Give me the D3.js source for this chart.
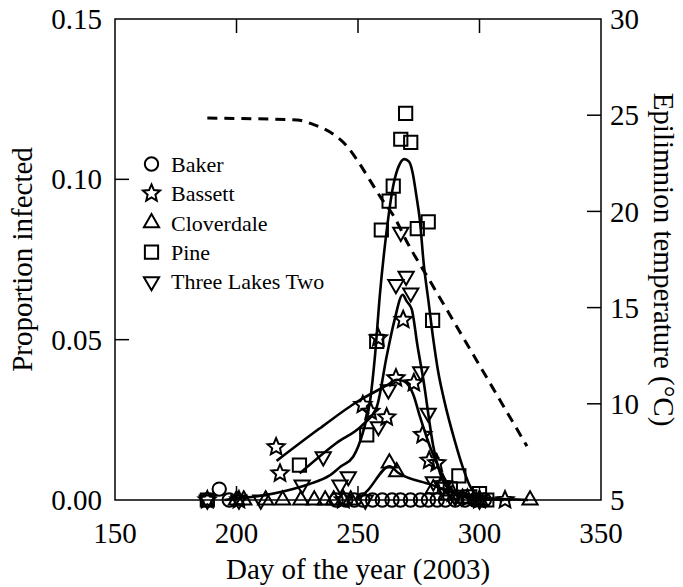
<!DOCTYPE html>
<html><head><meta charset="utf-8">
<script src="https://cdn.jsdelivr.net/npm/d3@7"></script>
<style>body{margin:0;background:#fff}svg{display:block}</style>
</head><body>
<svg id="c" width="683" height="587"></svg>
<script>
// Observations [day, proportion infected]
const bakerPts = [[188,0],[192.9,0.0034],[197,0],[241,0],[245,0],[248.5,0],[252,0],[256,0],[260,0],[264,0],[267.5,0],[271.6,0],[275.7,0],[279,0],[282.6,0],[286,0],[290,0],[294,0],[298,0],[302,0]];
const bassettPts = [[188,0],[201,0],[216.3,0.0165],[217.9,0.0083],[244,0],[252,0.0297],[255.2,0.0276],[258.4,0.0505],[261.8,0.0258],[265.6,0.038],[268.6,0.0562],[273,0.0365],[276.6,0.0203],[279.3,0.0123],[282.4,0.0115],[285,0.005],[289,0.002],[295,0.0005],[300,0],[310.5,0]];
const cloverdalePts = [[200,0],[203,0],[212,0],[219,0],[226.5,0],[232,0],[236.5,0],[240,0],[244,0],[247,0],[262.9,0.0115],[265.9,0.0088],[281,0.0035],[287,0.0015],[293,0.0005],[300,0],[320.8,0]];
const pinePts = [[188,0],[225.9,0.0109],[253.6,0.0203],[257.7,0.0495],[259.6,0.0842],[262.8,0.0932],[264.5,0.0979],[267.6,0.1125],[269.6,0.1206],[271.7,0.1115],[274.4,0.0846],[278.9,0.0867],[280.7,0.056],[288,0.0035],[291.5,0.0075],[296,0.001],[300,0.002],[303,0]];
const threeLakesPts = [[188,0],[201,0],[210,0],[227,0.0047],[235.7,0.0135],[242.6,0.0047],[246,0.0073],[253,0],[258.4,0.0229],[262.5,0.0344],[265.6,0.0672],[267.6,0.0835],[269.8,0.0698],[271.7,0.0646],[275.8,0.040],[278.9,0.0271],[281,0.0057],[285,0.004],[290,0.001],[300,0]];

// Fitted curves
const bassettFit = [[216.5,0.0122],[234,0.0222],[250,0.0308],[262,0.0358],[266,0.0375],[269,0.037],[272.7,0.033],[275.5,0.026],[279.6,0.0167],[283.7,0.0094],[289,0.003],[295,0.0008],[310,0]];
const cloverdaleFit = [[250,0],[254,0.003],[263,0.0105],[266.5,0.0085],[280,0.0048],[290,0.0022],[300,0.0008],[320,0]];
const pineFit = [[195,0],[200,0.0005],[210,0.0013],[220,0.0028],[230,0.005],[238,0.0075],[243,0.0105],[248,0.0135],[252,0.021],[255,0.031],[257,0.045],[259,0.064],[261.8,0.084],[264.5,0.098],[267,0.1045],[269,0.1063],[271,0.1055],[272.5,0.102],[274,0.095],[275.5,0.087],[277,0.074],[279,0.062],[281,0.05],[283,0.04],[285.5,0.031],[290,0.018],[293,0.0105],[296,0.0045],[300,0.001],[305,0]];
const threeLakesFit = [[226,0.0083],[241,0.0177],[252,0.0235],[257.7,0.029],[261.8,0.0448],[265,0.056],[268.4,0.064],[270,0.062],[272.1,0.0595],[274.5,0.048],[276.9,0.0375],[281,0.0167],[285,0.006],[290,0.002],[300,0]];

// Epilimnion temperature [day, degC]
const tempPts = [[188,24.85],[225,24.75],[232,24.5],[240,24.0],[245,23.45],[250,22.6],[255,21.6],[260,20.6],[265,19.7],[270,18.45],[280,16.3],[290,14.15],[300,12.0],[310,9.85],[319.5,7.8]];

const xTicks = [150,200,250,300,350];
const yTicks = [0,0.05,0.10,0.15];
const tTicks = [5,10,15,20,25,30];
const legendNames = ["Baker","Bassett","Cloverdale","Pine","Three Lakes Two"];

const FONT = "'Liberation Serif', 'DejaVu Serif', 'Times New Roman', serif";
const svg = d3.select("#c").attr("font-family", FONT);
const L=115,R=601,T=19,B=500;
const x = d3.scaleLinear().domain([150,350]).range([L,R]);
const y = d3.scaleLinear().domain([0,0.15]).range([B,T]);
const yT = d3.scaleLinear().domain([5,30]).range([B,T]);

// fatter five-point star (size = outer radius squared)
const fatStar = {draw(ctx,size){
  const ro=Math.sqrt(size), ri=ro*0.46;
  for(let k=0;k<10;k++){
    const r=k%2?ri:ro, a=-Math.PI/2+k*Math.PI/5;
    const px=r*Math.cos(a), py=r*Math.sin(a);
    k?ctx.lineTo(px,py):ctx.moveTo(px,py);
  }
  ctx.closePath();
}};

const symDefs = [
  {type:d3.symbolCircle,size:140,rot:0},
  {type:fatStar,size:80,rot:0},
  {type:d3.symbolTriangle,size:100,rot:0},
  {type:d3.symbolSquare,size:175,rot:0},
  {type:d3.symbolTriangle,size:100,rot:180}
];
const allPts=[bakerPts,bassettPts,cloverdalePts,pinePts,threeLakesPts];
const fits=[bassettFit,cloverdaleFit,pineFit,threeLakesFit];

const line = d3.line().x(d=>x(d[0])).y(d=>y(d[1])).curve(d3.curveMonotoneX);
const g = svg.append("g");
fits.forEach(f=>g.append("path").attr("d",line(f)).attr("fill","none").attr("stroke","#000").attr("stroke-width",2.6));

const tline = d3.line().x(d=>x(d[0])).y(d=>yT(d[1])).curve(d3.curveMonotoneX);
g.append("path").attr("d",tline(tempPts)).attr("fill","none").attr("stroke","#000").attr("stroke-width",3).attr("stroke-dasharray","10,7");

allPts.forEach((pts,i)=>{
  const s=symDefs[i];
  g.selectAll(null).data(pts).enter().append("path")
   .attr("d",d3.symbol().type(s.type).size(s.size)())
   .attr("transform",d=>`translate(${x(d[0])},${y(d[1])}) rotate(${s.rot})`)
   .attr("fill","none").attr("stroke","#000").attr("stroke-width",2);
});

// axes
const ax = svg.append("g");
ax.append("rect").attr("x",L).attr("y",T).attr("width",R-L).attr("height",B-T).attr("fill","none").attr("stroke","#000").attr("stroke-width",1.5);
const tl=14;
xTicks.forEach(v=>{
  if(v>150&&v<350){
    ax.append("line").attr("x1",x(v)).attr("x2",x(v)).attr("y1",B).attr("y2",B-tl).attr("stroke","#000").attr("stroke-width",1.5);
    ax.append("line").attr("x1",x(v)).attr("x2",x(v)).attr("y1",T).attr("y2",T+tl).attr("stroke","#000").attr("stroke-width",1.5);
  }
  ax.append("text").attr("x",x(v)).attr("y",B+43).attr("text-anchor","middle").attr("font-size",29).text(v);
});
yTicks.forEach(v=>{
  if(v>0&&v<0.15) ax.append("line").attr("x1",L).attr("x2",L+tl).attr("y1",y(v)).attr("y2",y(v)).attr("stroke","#000").attr("stroke-width",1.5);
  ax.append("text").attr("x",L-13).attr("y",y(v)).attr("dy","0.35em").attr("text-anchor","end").attr("font-size",29).text(v.toFixed(2));
});
tTicks.forEach(v=>{
  if(v>5&&v<30) ax.append("line").attr("x1",R).attr("x2",R-tl).attr("y1",yT(v)).attr("y2",yT(v)).attr("stroke","#000").attr("stroke-width",1.5);
  ax.append("text").attr("x",R+9).attr("y",yT(v)).attr("dy","0.35em").attr("text-anchor","start").attr("font-size",29).text(v);
});
ax.append("text").attr("x",(L+R)/2).attr("y",579).attr("text-anchor","middle").attr("font-size",29).text("Day of the year (2003)");
ax.append("text").attr("transform",`translate(32,${(T+B)/2}) rotate(-90)`).attr("text-anchor","middle").attr("font-size",29).text("Proportion infected");
ax.append("text").attr("transform",`translate(654,${(T+B)/2}) rotate(90)`).attr("text-anchor","middle").attr("font-size",29).text("Epilimnion temperature (\u00B0C)");

// legend
const leg = svg.append("g");
legendNames.forEach((n,i)=>{
  const yy=164+i*29.4, s=symDefs[i];
  leg.append("path").attr("d",d3.symbol().type(s.type).size(s.size)())
   .attr("transform",`translate(151.5,${yy}) rotate(${s.rot})`)
   .attr("fill","none").attr("stroke","#000").attr("stroke-width",2);
  leg.append("text").attr("x",171).attr("y",yy).attr("dy","0.35em").attr("font-size",22).text(n);
});
</script>
</body></html>
